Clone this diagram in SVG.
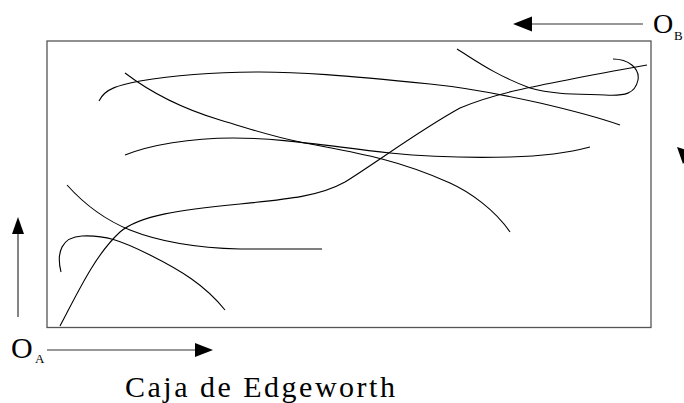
<svg xmlns="http://www.w3.org/2000/svg" width="684" height="403" viewBox="0 0 684 403">
<style>
.curve{fill:none;stroke:#000;stroke-width:1.1}
.axis{stroke:#333;stroke-width:1.2;fill:none}
.head{fill:#000}
.lbl{font-family:"Liberation Serif","Times New Roman",serif;fill:#000}
</style>
<rect width="684" height="403" fill="#fff"/>
<g id="box"><rect x="47" y="41" width="604" height="286.5" fill="none" stroke="#555" stroke-width="1.3"/></g>
<g id="connectors">
<path class="curve" d="M99,101 C105,88 120,85 140,81 C180,74 220,72 260,72 C300,72 340,75 430,84 C470,88 500,94 540,103 C570,110 600,118 620,125"/>
<path class="curve" d="M125,73 C150,92 180,108 220,120 S270,136 300,142 C330,148 355,152 382,159 S430,174 450,183 S495,210 510,232"/>
<path class="curve" d="M125,155 C150,145 190,138 233,138 C280,138 320,145 390,153 C430,157 470,158 510,157 C550,156 575,151 590,147"/>
<path class="curve" d="M60,326 C78,292 95,255 120,232 C140,215 180,210 240,204 C290,199 320,196 345,182 C380,160 420,130 460,108 C490,95 520,88 647,65"/>
<path class="curve" d="M67,185 C85,205 105,220 130,230 C160,242 200,248 240,249 L322,249"/>
<path class="curve" d="M61,272 C56,252 62,237 82,236 C105,235 120,240 150,255 C180,270 205,285 225,310"/>
<path class="curve" d="M457,49 C475,60 495,75 530,88 C555,95 580,94 605,95 C625,96 635,94 638,80 C640,68 628,59 613,59"/>
<line class="axis" x1="643" y1="24" x2="530" y2="24"/>
<polygon class="head" points="513,24 532,16.5 532,31.5"/>
<line class="axis" x1="18" y1="317" x2="18" y2="232"/>
<polygon class="head" points="18,217 12,234 24,234"/>
<line class="axis" x1="47" y1="350" x2="196" y2="350"/>
<polygon class="head" points="213,350 195,343 195,357"/>
<polygon class="head" points="677,147 690,151 683,164"/>
</g>
<g id="OA"><text class="lbl" x="11" y="358" font-size="30">O</text><text class="lbl" x="35" y="363" font-size="13">A</text></g>
<g id="OB"><text class="lbl" x="653" y="33" font-size="28">O</text><text class="lbl" x="674" y="40" font-size="13">B</text></g>
<g id="title"><text class="lbl" x="125" y="397" font-size="30" letter-spacing="2.5">Caja de Edgeworth</text></g>
</svg>
